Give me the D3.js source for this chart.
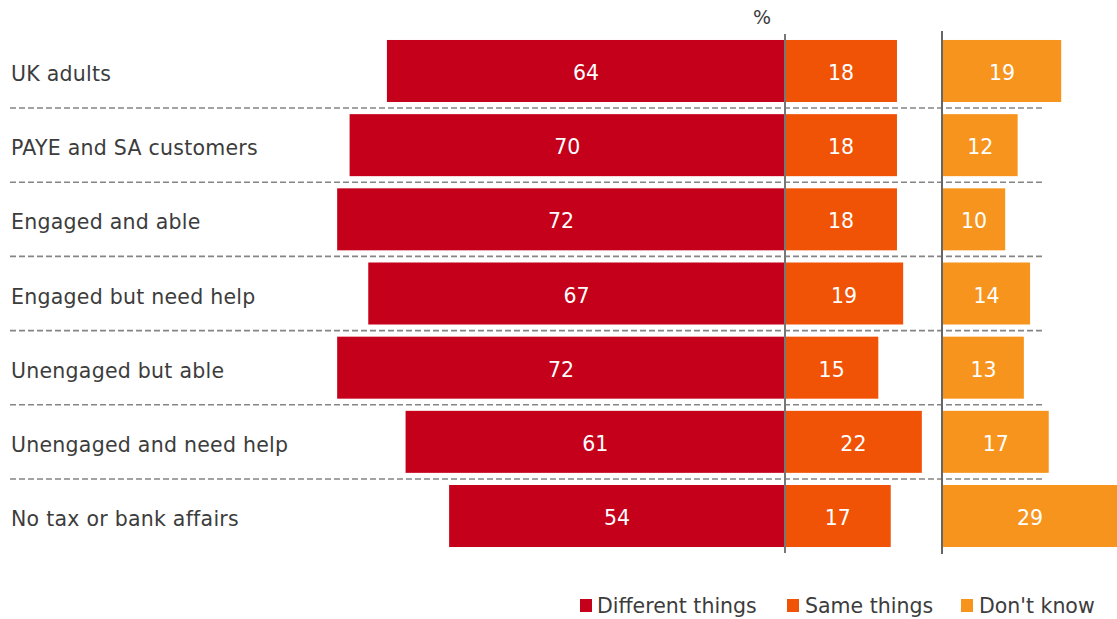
<!DOCTYPE html>
<html>
<head>
<meta charset="utf-8">
<script src="https://cdn.jsdelivr.net/npm/d3@7"></script>
<style>
  html, body { margin: 0; padding: 0; background: #fff; }
  svg { display: block; font-family: "DejaVu Sans", Verdana, sans-serif; }
</style>
</head>
<body>
<svg id="chart" width="1117" height="619"></svg>
<script>
// Survey groups (rows, top to bottom)
const categories = [
  "UK adults",
  "PAYE and SA customers",
  "Engaged and able",
  "Engaged but need help",
  "Unengaged but able",
  "Unengaged and need help",
  "No tax or bank affairs"
];

// Share of respondents (%) per answer
const differentThings = [64, 70, 72, 67, 72, 61, 54];
const sameThings      = [18, 18, 18, 19, 15, 22, 17];
const dontKnow        = [19, 12, 10, 14, 13, 17, 29];

const seriesNames  = ["Different things", "Same things", "Don't know"];
const seriesColors = ["#c5001a", "#f05206", "#f7941d"];

const width = 1117, height = 619;
const svg = d3.select("#chart");

const centreX = 785;   // shared origin of "different" (leftwards) and "same" (rightwards)
const thirdX  = 943;   // origin of the "don't know" panel

const y = d3.scaleBand()
  .domain(categories)
  .range([33.9, 553.1])
  .paddingInner(0.164)
  .paddingOuter(0.082);

const x = d3.scaleLinear().domain([0, 100]).range([0, 622]);

const textColor = "#3c3c3c";
const fontSize = 20.5;

// dashed separators between rows
const step = y.step();
const sepYs = categories.slice(1).map(c => y(c) - step * y.paddingInner() / 2);
svg.append("g").selectAll("line")
  .data(sepYs)
  .join("line")
  .attr("x1", 10).attr("x2", 1042)
  .attr("y1", d => d).attr("y2", d => d)
  .attr("stroke", "#858585")
  .attr("stroke-width", 1.6)
  .attr("stroke-dasharray", "6,3");

// category labels
svg.append("g").selectAll("text")
  .data(categories)
  .join("text")
  .attr("x", 11)
  .attr("y", d => y(d) + y.bandwidth() / 2 + 10)
  .attr("fill", textColor)
  .attr("font-size", fontSize)
  .attr("letter-spacing", 0.25)
  .text(d => d);

// bars + value labels
const rows = categories.map((c, i) => ({
  cat: c, diff: differentThings[i], same: sameThings[i], dk: dontKnow[i]
}));

const clipW = width;
function drawSeries(key, color, x0fn, wfn) {
  const g = svg.append("g");
  g.selectAll("rect")
    .data(rows)
    .join("rect")
    .attr("x", d => x0fn(d))
    .attr("y", d => y(d.cat))
    .attr("width", d => wfn(d))
    .attr("height", y.bandwidth())
    .attr("fill", color);
  g.selectAll("text")
    .data(rows)
    .join("text")
    .attr("x", d => {
      const x0 = x0fn(d), x1 = Math.min(x0 + wfn(d), clipW);
      return (x0 + x1) / 2;
    })
    .attr("y", d => y(d.cat) + y.bandwidth() / 2 + 9)
    .attr("text-anchor", "middle")
    .attr("fill", "#fff")
    .attr("font-size", fontSize)
    .text(d => d[key]);
}

drawSeries("diff", seriesColors[0], d => centreX - x(d.diff), d => x(d.diff));
drawSeries("same", seriesColors[1], () => centreX, d => x(d.same));
drawSeries("dk",   seriesColors[2], () => thirdX, d => x(d.dk));

// panel axes
svg.append("line")
  .attr("x1", centreX).attr("x2", centreX)
  .attr("y1", 34).attr("y2", 553)
  .attr("stroke", "#777").attr("stroke-width", 2);
svg.append("line")
  .attr("x1", thirdX - 1).attr("x2", thirdX - 1)
  .attr("y1", 31).attr("y2", 554)
  .attr("stroke", "#666").attr("stroke-width", 2);

// unit marker
svg.append("text")
  .attr("x", 762).attr("y", 24)
  .attr("text-anchor", "middle")
  .attr("fill", textColor)
  .attr("font-size", 19)
  .text("%");

// legend
const legendItems = [
  { name: seriesNames[0], color: seriesColors[0], sx: 580, tx: 597 },
  { name: seriesNames[1], color: seriesColors[1], sx: 787, tx: 805 },
  { name: seriesNames[2], color: seriesColors[2], sx: 961, tx: 979 }
];
const lg = svg.append("g");
lg.selectAll("rect")
  .data(legendItems)
  .join("rect")
  .attr("x", d => d.sx).attr("y", 599)
  .attr("width", 12).attr("height", 13)
  .attr("fill", d => d.color);
lg.selectAll("text")
  .data(legendItems)
  .join("text")
  .attr("x", d => d.tx).attr("y", 613)
  .attr("fill", textColor)
  .attr("font-size", fontSize)
  .text(d => d.name);
</script>
</body>
</html>
